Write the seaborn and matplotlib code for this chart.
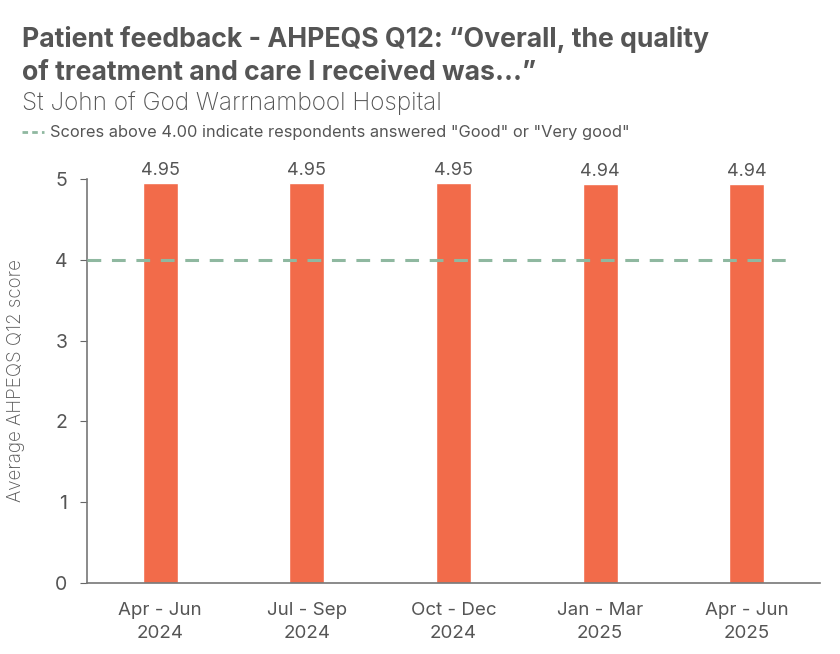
import matplotlib
matplotlib.use("Agg")
import matplotlib.pyplot as plt
import seaborn as sns
import pandas as pd

categories = ["Apr - Jun\n2024", "Jul - Sep\n2024", "Oct - Dec\n2024", "Jan - Mar\n2025", "Apr - Jun\n2025"]
scores = [4.95, 4.95, 4.95, 4.94, 4.94]
threshold = 4.00

sns.set_style("white")
plt.rcParams['font.family'] = ['Inter', 'DejaVu Sans']

df = pd.DataFrame({"period": categories, "score": scores})

fig = plt.figure(figsize=(8.4, 6.54), dpi=100)
ax = fig.add_axes([87/840, 1-583/654, (820-87)/840, (583-179)/654])

sns.barplot(data=df, x="period", y="score", color="#F26B4A", saturation=1, width=0.24, ax=ax)
ax.axhline(threshold, xmin=0, xmax=0.965, color="#8FB8A0", lw=2.2, ls=(0, (4.5, 3.5)), zorder=3)

for i, v in enumerate(scores):
    ax.text(i, v + 0.05, f"{v:.2f}", ha="center", va="bottom", fontsize=13, color="#555555")

ax.set_ylim(0, 5)
ax.set_xlim(-0.5, 4.5)
ax.set_yticks([0, 1, 2, 3, 4, 5])
ax.set_xlabel("")
ax.set_ylabel("Average AHPEQS Q12 score", fontsize=13.5, fontweight="light", color="#555555")
ax.yaxis.set_label_coords(-62/733, 0.5)
ax.tick_params(axis="y", left=True, length=5, color="#666666", labelsize=14, labelcolor="#555555", pad=9)
ax.tick_params(axis="x", bottom=False, labelsize=13.5, labelcolor="#555555", pad=10)
for lbl in ax.get_xticklabels():
    lbl.set_linespacing(1.45)
for s in ["top", "right"]:
    ax.spines[s].set_visible(False)
for s in ["left", "bottom"]:
    ax.spines[s].set_color("#777777")
    ax.spines[s].set_linewidth(1.2)

fig.text(22/840, 1-47/654, "Patient feedback - AHPEQS Q12: \u201cOverall, the quality", fontsize=19.2, fontweight="bold", color="#555555")
fig.text(22/840, 1-80/654, "of treatment and care I received was...\u201d", fontsize=19.2, fontweight="bold", color="#555555")
fig.text(22/840, 1-110/654, "St John of God Warrnambool Hospital", fontsize=17.5, fontweight="light", color="#555555")
fig.lines.append(plt.Line2D([22/840, 44/840], [1-132/654, 1-132/654], transform=fig.transFigure, color="#8FB8A0", lw=2, ls=(0, (2, 1.5))))
fig.text(50/840, 1-137/654, "Scores above 4.00 indicate respondents answered \"Good\" or \"Very good\"", fontsize=11.8, color="#555555")

fig.savefig("out.png", dpi=100)
